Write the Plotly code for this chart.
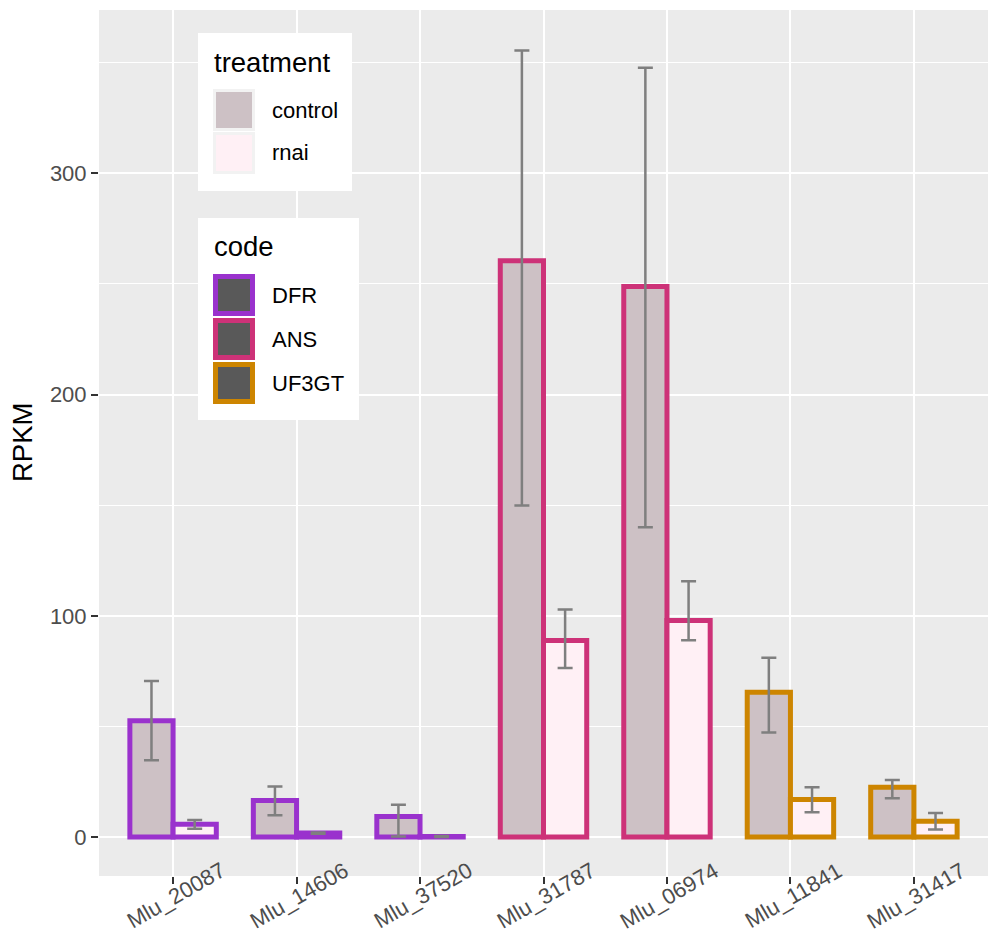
import plotly.graph_objects as go

# ---------------- data ----------------
genes = ["Mlu_20087", "Mlu_14606", "Mlu_37520", "Mlu_31787", "Mlu_06974", "Mlu_11841", "Mlu_31417"]
codes = ["DFR", "DFR", "DFR", "ANS", "ANS", "UF3GT", "UF3GT"]

control_mean = [52.6, 16.5, 9.3, 260.5, 248.8, 65.5, 22.5]
control_ymin = [34.7, 9.9, 0.2, 149.8, 140.0, 47.3, 17.5]
control_ymax = [70.5, 22.9, 14.6, 355.5, 347.7, 81.0, 25.8]

rnai_mean = [5.8, 1.8, 0.3, 88.8, 97.9, 17.0, 7.1]
rnai_ymin = [3.8, 1.5, 0.0, 76.4, 89.0, 11.2, 3.4]
rnai_ymax = [7.7, 2.1, 0.5, 102.9, 115.6, 22.5, 10.9]

treatments = ["control", "rnai"]
code_levels = ["DFR", "ANS", "UF3GT"]
y_ticks = [0, 100, 200, 300]

# ---------------- styles ----------------
code_colors = {"DFR": "#9A32CD", "ANS": "#CD3278", "UF3GT": "#CD8500"}
fill_colors = {"control": "#CDC1C5", "rnai": "#FFF0F5"}
FONT = "Liberation Sans, Arial, sans-serif"
W, H = 988, 932
L, R, T, B = 99, 0, 10, 56

def px(x):
    return (x - L) / (W - L - R)

def py(y):
    return (H - B - y) / (H - T - B)

outline = [code_colors[c] for c in codes]

fig = go.Figure()
for tr, mean, lo, hi, off in [
    ("control", control_mean, control_ymin, control_ymax, -0.35),
    ("rnai", rnai_mean, rnai_ymin, rnai_ymax, 0.0),
]:
    fig.add_trace(go.Bar(
        x=genes, y=mean, name=tr, offset=off, width=0.35,
        marker=dict(color=fill_colors[tr], line=dict(color=outline, width=5)),
        error_y=dict(type="data", symmetric=False,
                     array=[h - m for h, m in zip(hi, mean)],
                     arrayminus=[m - l for m, l in zip(mean, lo)],
                     color="#7F7F7F", thickness=2.5, width=7.5),
        showlegend=False,
    ))

shapes = []
annotations = []

# x tick labels (rotated 30 deg, centered on tick)
for g in genes:
    annotations.append(dict(x=g, y=py(896), xref="x", yref="paper", text=g,
                            showarrow=False, textangle=-30, xanchor="center", yanchor="middle",
                            xshift=3, font=dict(family=FONT, size=22, color="#4D4D4D")))

# y axis title
annotations.append(dict(x=px(22), y=py(443), xref="paper", yref="paper", text="RPKM",
                        showarrow=False, textangle=-90, xanchor="center", yanchor="middle",
                        font=dict(family=FONT, size=27.5, color="#000000")))

# legend: treatment
shapes.append(dict(type="rect", xref="paper", yref="paper", x0=px(198), x1=px(352),
                   y0=py(191), y1=py(33), fillcolor="white", line=dict(width=0), layer="above"))
annotations.append(dict(x=px(212), y=py(62), xref="paper", yref="paper", text="treatment",
                        showarrow=False, xanchor="left", yanchor="middle",
                        font=dict(family=FONT, size=27.5, color="#000000")))
for i, tr in enumerate(treatments):
    top = 89 + i * 43
    shapes.append(dict(type="rect", xref="paper", yref="paper", x0=px(213), x1=px(255),
                       y0=py(top + 42), y1=py(top), fillcolor="#F2F2F2", line=dict(width=0), layer="above"))
    shapes.append(dict(type="rect", xref="paper", yref="paper", x0=px(216), x1=px(252),
                       y0=py(top + 39), y1=py(top + 3), fillcolor=fill_colors[tr], line=dict(width=0), layer="above"))
    annotations.append(dict(x=px(270), y=py(top + 21), xref="paper", yref="paper", text=tr,
                            showarrow=False, xanchor="left", yanchor="middle",
                            font=dict(family=FONT, size=22, color="#000000")))

# legend: code
shapes.append(dict(type="rect", xref="paper", yref="paper", x0=px(198), x1=px(359),
                   y0=py(420), y1=py(218), fillcolor="white", line=dict(width=0), layer="above"))
annotations.append(dict(x=px(212), y=py(247), xref="paper", yref="paper", text="code",
                        showarrow=False, xanchor="left", yanchor="middle",
                        font=dict(family=FONT, size=27.5, color="#000000")))
for i, c in enumerate(code_levels):
    top = 274 + i * 44
    shapes.append(dict(type="rect", xref="paper", yref="paper", x0=px(213), x1=px(255),
                       y0=py(top + 42), y1=py(top), fillcolor=code_colors[c], line=dict(width=0), layer="above"))
    shapes.append(dict(type="rect", xref="paper", yref="paper", x0=px(218), x1=px(250),
                       y0=py(top + 37), y1=py(top + 5), fillcolor="#595959", line=dict(width=0), layer="above"))
    annotations.append(dict(x=px(270), y=py(top + 21), xref="paper", yref="paper", text=c,
                            showarrow=False, xanchor="left", yanchor="middle",
                            font=dict(family=FONT, size=22, color="#000000")))

fig.update_layout(
    width=W, height=H,
    margin=dict(l=L, r=R, t=T, b=B, pad=0),
    paper_bgcolor="white", plot_bgcolor="#EBEBEB",
    barmode="overlay", showlegend=False,
    font=dict(family=FONT),
    shapes=shapes, annotations=annotations,
    xaxis=dict(type="category", categoryorder="array", categoryarray=genes,
               range=[-0.6, 6.6], showgrid=True, gridcolor="white", gridwidth=2.2,
               showticklabels=False, ticks="outside", ticklen=7, tickwidth=2.2, tickcolor="#333333",
               zeroline=False, showline=False, fixedrange=True),
    yaxis=dict(range=[-17.6, 373.8], tickvals=y_ticks, ticktext=[str(v) for v in y_ticks],
               showgrid=True, gridcolor="white", gridwidth=2.2,
               minor=dict(tickvals=[50, 150, 250, 350], showgrid=True, gridcolor="white", gridwidth=1.1, ticks=""),
               ticks="outside", ticklen=7, tickwidth=2.2, tickcolor="#333333",
               tickfont=dict(family=FONT, size=22, color="#4D4D4D"),
               zeroline=False, showline=False, fixedrange=True),
)

fig.write_html("out.html", config={"displayModeBar": False},
               post_script="document.body.style.margin='0';document.body.style.overflow='hidden';")
